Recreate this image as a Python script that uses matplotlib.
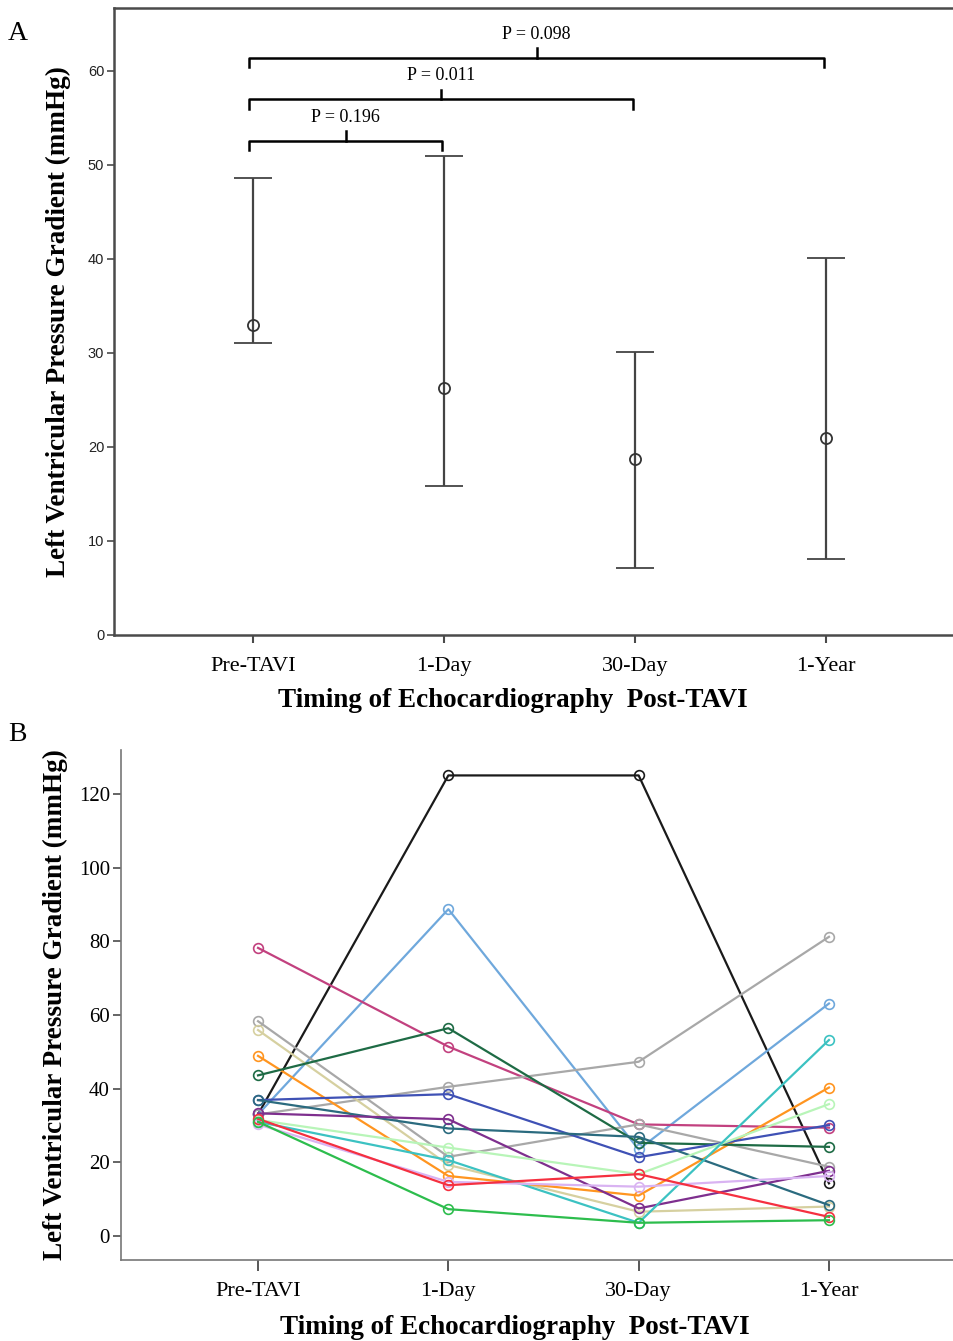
import matplotlib
matplotlib.use('Agg')
import matplotlib.pyplot as plt
import numpy as np

# ---- data ----
timepoints = ['Pre-TAVI', '1-Day', '30-Day', '1-Year']

# panel A: median with range
a_center = [33.0, 26.3, 18.7, 21.0]
a_upper = [48.6, 51.0, 30.1, 40.1]
a_lower = [31.1, 15.8, 7.1, 8.1]

# pairwise comparisons: (from, to, bracket height, label)
p_from = [0, 0, 0]
p_to = [1, 2, 3]
p_level = [52.6, 57.0, 61.4]
p_labels = ['P = 0.196', 'P = 0.011', 'P = 0.098']

# panel B: individual patients
patient_values = [
    [33.0, 125.0, 125.0, 14.3],
    [33.0, 88.7, 23.5, 63.1],
    [78.2, 51.4, 30.3, 29.4],
    [58.3, 21.5, 30.3, 18.8],
    [33.0, 40.5, 47.3, 81.2],
    [55.9, 19.3, 6.6, 8.0],
    [48.9, 16.3, 11.0, 40.3],
    [43.6, 56.4, 25.3, 24.2],
    [36.9, 38.5, 21.4, 30.1],
    [36.9, 29.2, 26.9, 8.4],
    [33.3, 31.7, 7.5, 17.7],
    [31.5, 24.0, 16.8, 35.8],
    [31.0, 20.6, 3.6, 53.2],
    [30.3, 14.7, 13.4, 16.3],
    [31.8, 13.8, 16.8, 5.2],
    [31.0, 7.3, 3.6, 4.3],
]
patient_colors = ['#1a1a1a', '#6fa8dc', '#c2417f', '#a8a8a8', '#a8a8a8',
                  '#d6d0a0', '#ff9520', '#1e6b45', '#3f51b5', '#2b6b7f',
                  '#7e2f8e', '#b8f5b8', '#3cc2c2', '#d9b3f2', '#f53040',
                  '#2dbd4d']

serif = 'Liberation Serif'
sans = 'Liberation Sans'
spine_col = '#4a4a4a'

fig = plt.figure(figsize=(9.54, 13.41), dpi=100)

# ---------- panel A ----------
axA = fig.add_axes([114/954, 1-635/1341, 1-114/954, (635-8)/1341])
x = np.arange(len(timepoints))
yerr = [np.array(a_center) - np.array(a_lower), np.array(a_upper) - np.array(a_center)]
axA.errorbar(x, a_center, yerr=yerr, fmt='o', mfc='none', mec='#333333', ms=8,
             mew=1.3, ecolor='#444444', elinewidth=1.6, capsize=14, capthick=1.6)

for i0, i1, lvl, lab in zip(p_from, p_to, p_level, p_labels):
    x0, x1 = i0 - 0.02, i1 - 0.01
    xm = (x0 + x1) / 2
    axA.plot([x0, x0, x1, x1], [lvl - 1.0, lvl, lvl, lvl - 1.0], color='black', lw=1.8)
    axA.plot([xm, xm], [lvl, lvl + 1.0], color='black', lw=1.8)
    axA.text(xm, lvl + 1.6, lab, ha='center', va='bottom', fontsize=13, family=serif)

axA.set_xlim(-0.728, 3.67)
axA.set_ylim(0, 66.7)
axA.set_yticks([0, 10, 20, 30, 40, 50, 60])
axA.set_xticks(x)
axA.set_xticklabels(timepoints, fontsize=16, family=serif)
for lab in axA.get_yticklabels():
    lab.set_fontfamily(sans)
    lab.set_fontsize(10.5)
    lab.set_color('#222222')
axA.tick_params(axis='y', length=5, width=1.2, color=spine_col, pad=2)
axA.tick_params(axis='x', length=6, width=1.5, color=spine_col, pad=10)
axA.spines['right'].set_visible(False)
for s in ['left', 'bottom', 'top']:
    axA.spines[s].set_color(spine_col)
    axA.spines[s].set_linewidth(1.8)
axA.set_xlabel('Timing of Echocardiography  Post-TAVI', fontsize=19.5, family=serif,
               fontweight='bold')
axA.xaxis.set_label_coords(0.475, -0.085)
axA.set_ylabel('Left Ventricular Pressure Gradient (mmHg)', fontsize=19.5, family=serif,
               fontweight='bold', labelpad=12)
fig.text(8/954, 1-33/1341, 'A', fontsize=20, family=serif, va='center', ha='left')

# ---------- panel B ----------
axB = fig.add_axes([121/954, 1-1260/1341, 1-121/954, (1260-750)/1341])
for vals, col in zip(patient_values, patient_colors):
    axB.plot(x, vals, color=col, lw=1.6, marker='o', ms=7, mfc='none', mec=col, mew=1.2)

axB.set_xlim(-0.72, 3.657)
axB.set_ylim(-6.5, 131.9)
axB.set_yticks([0, 20, 40, 60, 80, 100, 120])
axB.set_yticklabels(['0', '20', '40', '60', '80', '100', '120'], fontsize=15, family=serif)
axB.set_xticks(x)
axB.set_xticklabels(timepoints, fontsize=16, family=serif)
axB.tick_params(axis='y', length=6, width=1.2, color=spine_col, pad=2)
axB.tick_params(axis='x', length=8, width=1.3, color=spine_col, pad=8)
axB.spines['right'].set_visible(False)
axB.spines['top'].set_visible(False)
for s in ['left', 'bottom']:
    axB.spines[s].set_color('#777777')
    axB.spines[s].set_linewidth(1.2)
axB.set_xlabel('Timing of Echocardiography  Post-TAVI', fontsize=19.5, family=serif,
               fontweight='bold')
axB.xaxis.set_label_coords(0.473, -0.108)
axB.set_ylabel('Left Ventricular Pressure Gradient (mmHg)', fontsize=19.5, family=serif,
               fontweight='bold', labelpad=8)
fig.text(8/954, 1-735/1341, 'B', fontsize=20, family=serif, va='center', ha='left')

fig.savefig('out.png', dpi=100)
